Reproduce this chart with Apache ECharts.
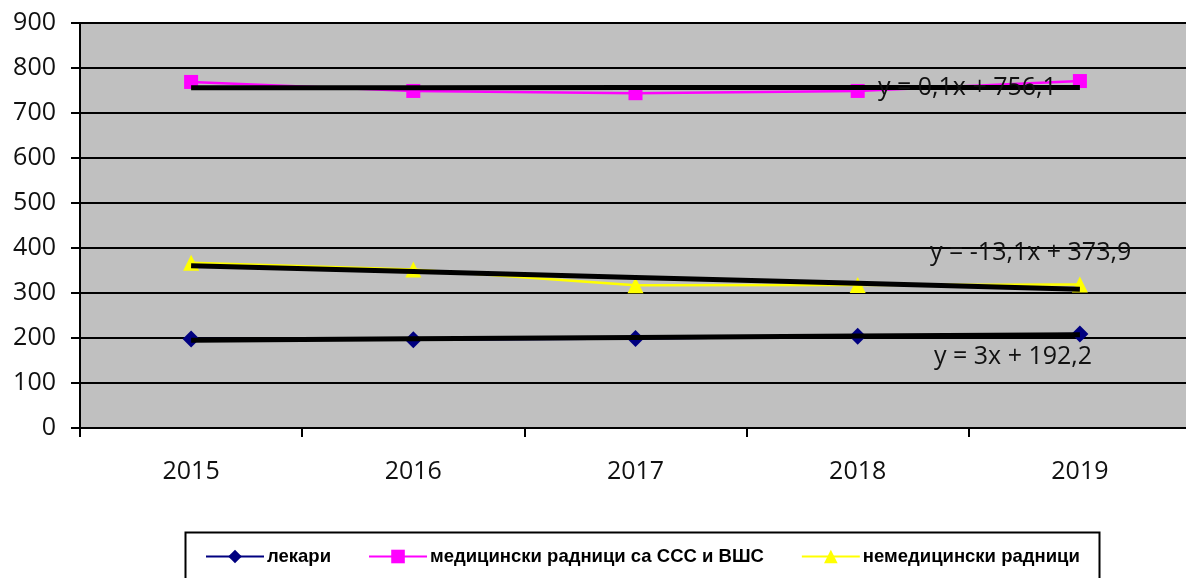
<!DOCTYPE html>
<html><head><meta charset="utf-8">
<script src="https://cdn.jsdelivr.net/npm/echarts@6/dist/echarts.min.js"></script>
<style>html,body{margin:0;padding:0;background:#fff}#c{width:1186px;height:578px}</style>
</head><body><div id="c"></div>
<script>
const categories = ['2015','2016','2017','2018','2019'];
const seriesNames = ['лекари','медицински радници са ССС и ВШС','немедицински радници'];
const lekari = [198,196,199,204,209];
const medicinski = [769,749,744,749,771];
const nemedicinski = [367,352,317,318,319];
const trendSlopes = [3, 0.1, -13.1];
const trendIntercepts = [192.2, 756.1, 373.9];
const trendLabels = ['y = 3x + 192,2','y = 0,1x + 756,1','y = -13,1x + 373,9'];
const yTicks = [0,100,200,300,400,500,600,700,800,900];

const trend = (i) => categories.map((c, k) => +(trendSlopes[i] * (k + 1) + trendIntercepts[i]).toFixed(2));
const chart = echarts.init(document.getElementById('c'));
const font = '"Open Sans", "Noto Sans", sans-serif';
const dataSeries = [
  {name: seriesNames[0], data: lekari, color: '#000080', symbol: 'diamond', size: 17},
  {name: seriesNames[1], data: medicinski, color: '#FF00FF', symbol: 'rect', size: 14},
  {name: seriesNames[2], data: nemedicinski, color: '#FFFF00', symbol: 'triangle', size: 16}
];
const series = dataSeries.map(s => ({
  name: s.name, type: 'line', data: s.data, symbol: s.symbol, symbolSize: s.size,
  itemStyle: {color: s.color}, lineStyle: {color: s.color, width: 2.5}, z: 3, animation: false
}));
[0,1,2].forEach(i => series.push({
  name: 'trend' + i, type: 'line', data: trend(i), symbol: 'none',
  lineStyle: {color: '#000', width: 5}, z: 4, animation: false, silent: true
}));
chart.setOption({
  animation: false,
  grid: {left: 80, top: 23, width: 1111, height: 405, outerBoundsMode: 'none', containLabel: false, show: true, backgroundColor: '#C0C0C0', borderWidth: 0},
  xAxis: {
    type: 'category', data: categories, boundaryGap: true,
    axisLine: {lineStyle: {color: '#000', width: 2}},
    axisTick: {show: true, length: 9, lineStyle: {color: '#000', width: 2}},
    axisLabel: {color: '#111', fontFamily: font, fontSize: 25, margin: 31}
  },
  yAxis: {
    type: 'value', min: 0, max: 900, interval: 100,
    axisLine: {show: true, lineStyle: {color: '#000', width: 2}},
    axisTick: {show: true, length: 9, lineStyle: {color: '#000', width: 2}},
    axisLabel: {color: '#111', fontFamily: font, fontSize: 25, margin: 24,
      formatter: v => yTicks.includes(v) ? String(v) : ''},
    splitLine: {lineStyle: {color: '#000', width: 2}}
  },
  legend: {
    data: seriesNames, left: 200, top: 542, itemWidth: 58, itemHeight: 17, itemGap: 37,
    textStyle: {fontFamily: '"Liberation Sans Narrow", "Liberation Sans", sans-serif', fontWeight: 'bold', fontSize: 18.5, color: '#000', padding: [0,0,0,-2]}
  },
  graphic: [
    {type: 'rect', left: 183, top: 530, shape: {width: 914, height: 60}, style: {fill: 'none', stroke: '#000', lineWidth: 2}, silent: true},
    {type: 'text', left: 878, top: 75, style: {text: trendLabels[1], font: '25px ' + font, fill: '#111'}, z: 10},
    {type: 'text', left: 930, top: 240, style: {text: trendLabels[2], font: '25px ' + font, fill: '#111'}, z: 10},
    {type: 'text', left: 934, top: 344, style: {text: trendLabels[0], font: '25px ' + font, fill: '#111'}, z: 10}
  ],
  series: series
});
</script></body></html>
